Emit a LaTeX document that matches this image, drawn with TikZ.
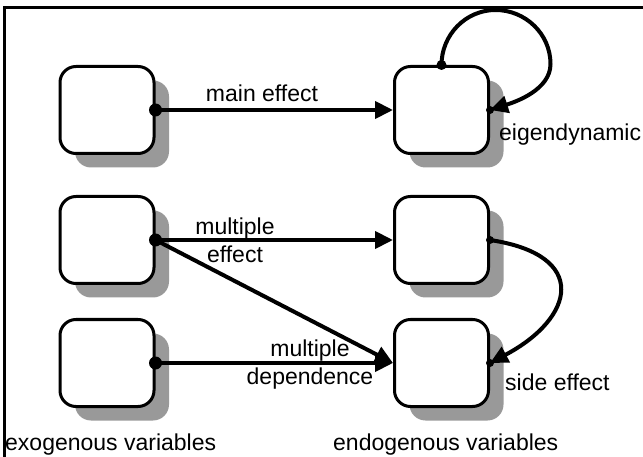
\documentclass[tikz,border=0pt]{standalone}
\usepackage{fontspec}
\setmainfont{Liberation Sans}
\usetikzlibrary{arrows.meta,shadows}
\begin{document}
\begin{tikzpicture}[x=1pt,y=-1pt,
    var/.style={draw=black, line width=3pt, fill=white, rounded corners=16pt, minimum width=94pt, minimum height=87pt, inner sep=0pt,
        drop shadow={shadow xshift=15pt, shadow yshift=-14pt, fill=black!40, opacity=1}},
    flow/.style={line width=4pt, -{Triangle[length=18pt,width=17pt]}},
    lbl/.style={font=\fontsize{23}{28}\selectfont, inner sep=0pt, align=center}]
    \useasboundingbox (0,0) rectangle (643,457);
    \draw[line width=3pt] (4,457) -- (4,8) -- (643,8);
    \foreach[count=\i] \y in {110,240,363}
    {
        \node[var] (ex\i) at (107,\y) {};
        \node[var] (en\i) at (441.5,\y) {};
    }
    \draw[flow] (ex1.east) -- (en1.west);
    \draw[flow] (ex2.east) -- (en2.west);
    \draw[flow] (ex2.east) -- (en3.west);
    \draw[flow] (ex3.east) -- (en3.west);
    \draw[flow] (en1.north) .. controls +(0,-30) and +(-30,0) .. ++(54,-55) .. controls +(30,0) and +(0,-30) .. ++(55,54) .. controls +(0,26) and +(25,-8) .. (en1.east);
    \draw[flow] (en2.east) .. controls +(100,15) and +(85,-45) .. (en3.east);
    \foreach \i in {1,2,3}
    {
        \fill (ex\i.east) circle (6.5pt);
        \fill (en\i.east) circle (4pt);
    }
    \fill (en1.north) circle (5pt);
    \node[lbl] (mainlbl) at (262,93) {main effect};
    \node[lbl] (multlbl) at (235,240) {multiple\\effect};
    \node[lbl] (deplbl) at (310,365) {multiple\\dependence};
    \node[lbl, anchor=west] (eigenlbl) at (499,135) {eigendynamic};
    \node[lbl, anchor=west] (sidelbl) at (505,382) {side effect};
    \node[lbl, anchor=west] (exolbl) at (5,445) {exogenous variables};
    \node[lbl, anchor=west] (endolbl) at (333,445) {endogenous variables};
\end{tikzpicture}
\end{document}
